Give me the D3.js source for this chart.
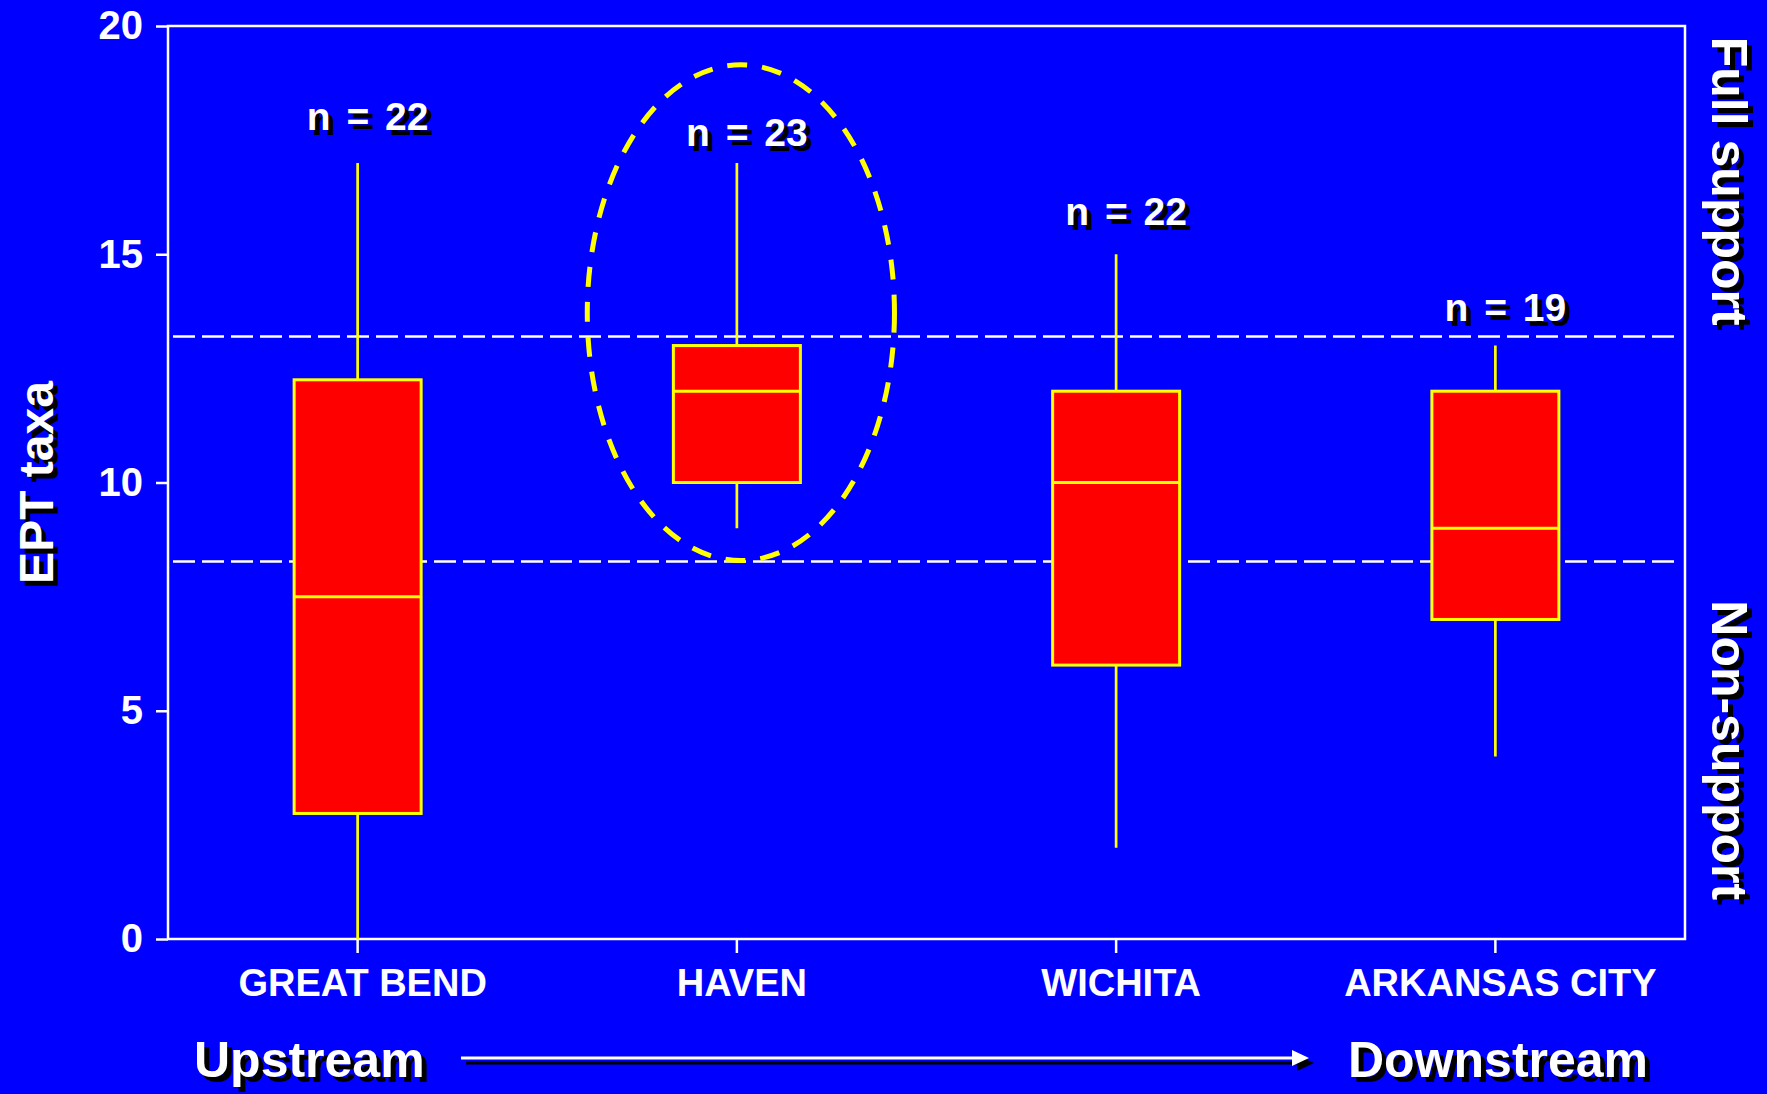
<!DOCTYPE html>
<html>
<head>
<meta charset="utf-8">
<script src="https://cdn.jsdelivr.net/npm/d3@7"></script>
<style>
  html, body { margin: 0; padding: 0; background: #0000ff; }
  svg { display: block; }
  text { font-family: "Liberation Sans", Arial, sans-serif; font-weight: bold; }
</style>
</head>
<body>
<div id="chart-area"></div>
<script>
// data
const sites = ["GREAT BEND", "HAVEN", "WICHITA", "ARKANSAS CITY"];
const mins    = [0,    9,  2,  4];
const q1s     = [2.75, 10, 6,  7];
const medians = [7.5,  12, 10, 9];
const q3s     = [12.25, 13, 12, 12];
const maxs    = [17,   17, 15, 13];
const counts  = [22, 23, 22, 19];
const yTicks  = [0, 5, 10, 15, 20];
const fullSupport = 13.2;   // upper criterion
const nonSupport  = 8.27;   // lower criterion

// where the "n =" labels sit (in EPT units)
const labelAt = [17.72, 17.38, 15.65, 13.53];

const width = 1767;
const height = 1094;
const plotL = 168, plotR = 1685, plotT = 26, plotB = 939;

const svg = d3.select("#chart-area")
    .append("svg")
    .attr("width", width)
    .attr("height", height);

svg.append("rect").attr("width", width).attr("height", height).attr("fill", "#0000ff");

const x = d3.scaleBand().domain(sites).range([plotL, plotR]);
const y = d3.scaleLinear().domain([0, 20]).range([plotB, plotT]);
const boxW = 127;

// text with a black drop shadow (offset in screen space)
function shadowText(g, str, px, py, rot, anchor, size) {
    [["#000", 5], ["#fff", 0]].forEach(([c, o]) => {
        g.append("text")
            .attr("class", "shadowed")
            .attr("transform", `translate(${px + o},${py + o}) rotate(${rot})`)
            .attr("text-anchor", anchor)
            .attr("font-size", size)
            .attr("fill", c)
            .text(str);
    });
}

// axes
const yAxis = svg.append("g")
    .attr("transform", `translate(${plotL},0)`)
    .call(d3.axisLeft(y).tickValues(yTicks).tickSize(12).tickPadding(13));
yAxis.select(".domain").remove();
yAxis.selectAll("line").attr("stroke", "#fff").attr("stroke-width", 2.5);
yAxis.selectAll("text")
    .attr("fill", "#fff")
    .attr("font-size", 40)
    .attr("font-family", "Liberation Sans, Arial, sans-serif")
    .attr("font-weight", "bold");

const xAxis = svg.append("g")
    .attr("transform", `translate(0,${plotB})`)
    .call(d3.axisBottom(x).tickSize(14).tickPadding(16));
xAxis.select(".domain").remove();
xAxis.selectAll("line").attr("stroke", "#fff").attr("stroke-width", 2.5);
xAxis.selectAll("text")
    .attr("fill", "#fff")
    .attr("dx", 5)
    .attr("font-size", 38)
    .attr("font-family", "Liberation Sans, Arial, sans-serif")
    .attr("font-weight", "bold");

// frame
svg.append("rect")
    .attr("x", plotL).attr("y", plotT)
    .attr("width", plotR - plotL).attr("height", plotB - plotT)
    .attr("fill", "none").attr("stroke", "#fff").attr("stroke-width", 2.5);

// criteria lines
svg.selectAll(".crit")
    .data([fullSupport, nonSupport])
    .enter()
    .append("line")
    .attr("class", "crit")
    .attr("x1", plotL + 5).attr("x2", plotR - 8)
    .attr("y1", d => y(d)).attr("y2", d => y(d))
    .attr("stroke", "#fff")
    .attr("stroke-width", 2.5)
    .attr("stroke-dasharray", "22 7");

// boxes
const boxes = sites.map((s, i) => ({
    site: s, min: mins[i], q1: q1s[i], med: medians[i], q3: q3s[i], max: maxs[i], n: counts[i], at: labelAt[i]
}));
const cx = d => x(d.site) + x.bandwidth() / 2;

svg.selectAll(".whisker")
    .data(boxes)
    .enter()
    .append("line")
    .attr("class", "whisker")
    .attr("x1", cx).attr("x2", cx)
    .attr("y1", d => y(d.min)).attr("y2", d => y(d.max))
    .attr("stroke", "#ffff00")
    .attr("stroke-width", 2.7);

svg.selectAll(".box")
    .data(boxes)
    .enter()
    .append("rect")
    .attr("class", "box")
    .attr("x", d => cx(d) - boxW / 2)
    .attr("width", boxW)
    .attr("y", d => y(d.q3))
    .attr("height", d => y(d.q1) - y(d.q3))
    .attr("fill", "#ff0000")
    .attr("stroke", "#ffff00")
    .attr("stroke-width", 3);

svg.selectAll(".median")
    .data(boxes)
    .enter()
    .append("line")
    .attr("class", "median")
    .attr("x1", d => cx(d) - boxW / 2).attr("x2", d => cx(d) + boxW / 2)
    .attr("y1", d => y(d.med)).attr("y2", d => y(d.med))
    .attr("stroke", "#ffff00")
    .attr("stroke-width", 3);

// n labels
boxes.forEach(d => {
    shadowText(svg, "n = " + d.n, cx(d) + 10, y(d.at), 0, "middle", 39);
});
svg.selectAll("text.shadowed").filter(function() { return this.textContent.startsWith("n ="); })
    .attr("word-spacing", 5);

// ellipse round HAVEN
const hav = boxes[1];
svg.append("ellipse")
    .attr("cx", cx(hav) + 4)
    .attr("cy", (y(19.15) + y(8.29)) / 2)
    .attr("rx", x.bandwidth() * 0.405)
    .attr("ry", (y(8.29) - y(19.15)) / 2)
    .attr("fill", "none")
    .attr("stroke", "#ffff00")
    .attr("stroke-width", 5)
    .attr("stroke-dasharray", "20 15");

// axis titles
shadowText(svg, "EPT taxa", 53, y(10), -90, "middle", 48);
shadowText(svg, "Full support", 1712, y((fullSupport + 20) / 2), 90, "middle", 50);
shadowText(svg, "Non-support", 1712, y(nonSupport / 2), 90, "middle", 50);

// upstream -> downstream
shadowText(svg, "Upstream", 194, 1077, 0, "start", 50);
shadowText(svg, "Downstream", 1348, 1077, 0, "start", 50);

[["#000", 5], ["#fff", 0]].forEach(([c, o]) => {
    const g = svg.append("g").attr("transform", `translate(${o},${o})`);
    g.append("line")
        .attr("x1", 461).attr("x2", 1295)
        .attr("y1", 1058).attr("y2", 1058)
        .attr("stroke", c).attr("stroke-width", 3);
    g.append("path")
        .attr("d", "M1292,1050 L1309,1058 L1292,1066 Z")
        .attr("fill", c);
});
</script>
</body>
</html>
